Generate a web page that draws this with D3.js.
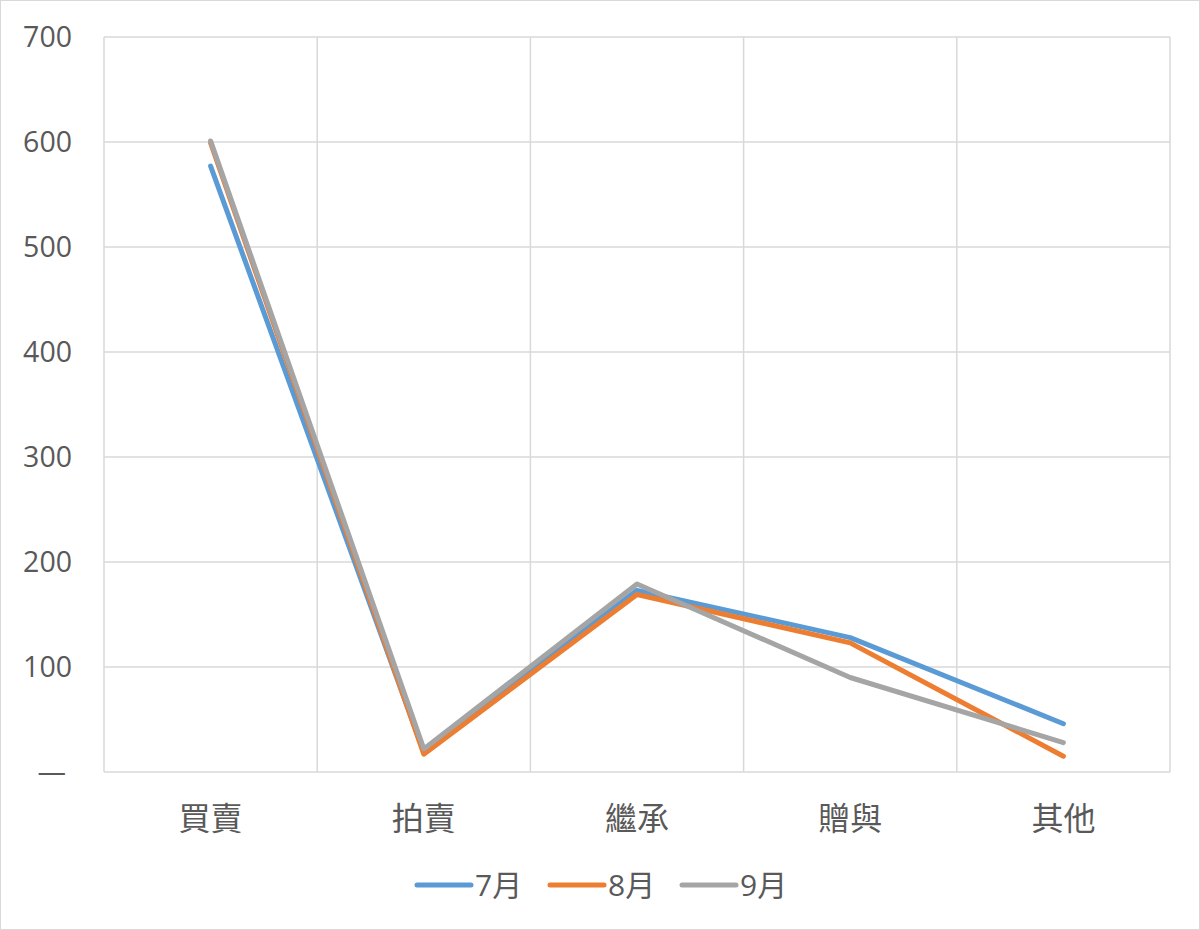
<!DOCTYPE html>
<html><head><meta charset="utf-8">
<script src="https://cdn.jsdelivr.net/npm/d3@7"></script>
<style>body{margin:0;background:#fff;}</style>
</head><body>
<svg id="c" width="1200" height="930"></svg>
<script>
const categories = ["買賣", "拍賣", "繼承", "贈與", "其他"];
const seriesNames = ["7月", "8月", "9月"];
const jul = [577, 19, 173, 128, 46];
const aug = [599, 17, 169, 123, 15];
const sep = [601, 22, 179, 90, 28];
const yTicks = [0, 100, 200, 300, 400, 500, 600, 700];
const colors = ["#5B9BD5", "#ED7D31", "#A5A5A5"];
const seriesData = [jul, aug, sep];

const svg = d3.select("#c");
svg.append("rect").attr("x",0.5).attr("y",0.5).attr("width",1199).attr("height",929)
  .attr("fill","#fff").attr("stroke","#d9d9d9");

const L=104, R=1170, T=37, B=772;
const x = d3.scaleBand().domain(categories).range([L,R]).padding(0);
const y = d3.scaleLinear().domain([0,700]).range([B,T]);

const font = "'Open Sans','Noto Sans CJK TC',sans-serif";
// horizontal grid
svg.append("g").selectAll("line").data(yTicks.filter(d=>d>0)).join("line")
  .attr("x1",L).attr("x2",R).attr("y1",d=>y(d)).attr("y2",d=>y(d))
  .attr("stroke","#d9d9d9").attr("stroke-width",1.5);
// vertical grid
const bounds = categories.map(c=>x(c)).concat([R]);
svg.append("g").selectAll("line").data(bounds).join("line")
  .attr("x1",d=>d).attr("x2",d=>d).attr("y1",T).attr("y2",B)
  .attr("stroke","#d9d9d9").attr("stroke-width",1.5);
// bottom axis line
svg.append("line").attr("x1",L).attr("x2",R).attr("y1",B).attr("y2",B)
  .attr("stroke","#d9d9d9").attr("stroke-width",1.5);

// y labels
svg.append("g").selectAll("text").data(yTicks).join("text")
  .attr("x",d=>d===0?66:72).attr("y",d=>y(d)).attr("dy","0.36em")
  .attr("text-anchor","end").attr("fill","#595959")
  .style("font-family",font).style("font-size","28.5px")
  .text(d=>d===0?"—":d);

// x labels
svg.append("g").selectAll("text").data(categories).join("text")
  .attr("x",d=>x(d)+x.bandwidth()/2).attr("y",830)
  .attr("text-anchor","middle").attr("fill","#595959")
  .style("font-family","'Noto Sans CJK TC',sans-serif").style("font-size","32px")
  .text(d=>d);

// lines
const line = d3.line().x((d,i)=>x(categories[i])+x.bandwidth()/2).y(d=>y(d));
seriesData.forEach((s,k)=>{
  svg.append("path").attr("d",line(s)).attr("fill","none")
    .attr("stroke",colors[k]).attr("stroke-width",5)
    .attr("stroke-linecap","round").attr("stroke-linejoin","round");
});

// legend
const legX = [417, 550, 682];
seriesNames.forEach((n,k)=>{
  const g = svg.append("g");
  g.append("line").attr("x1",legX[k]).attr("x2",legX[k]+54).attr("y1",885).attr("y2",885)
    .attr("stroke",colors[k]).attr("stroke-width",5).attr("stroke-linecap","round");
  g.append("text").attr("x",legX[k]+58).attr("y",885).attr("dy","0.37em")
    .attr("fill","#595959").style("font-family","'Open Sans','Noto Sans CJK TC',sans-serif")
    .style("font-size","30px").text(n);
});
</script>
</body></html>
